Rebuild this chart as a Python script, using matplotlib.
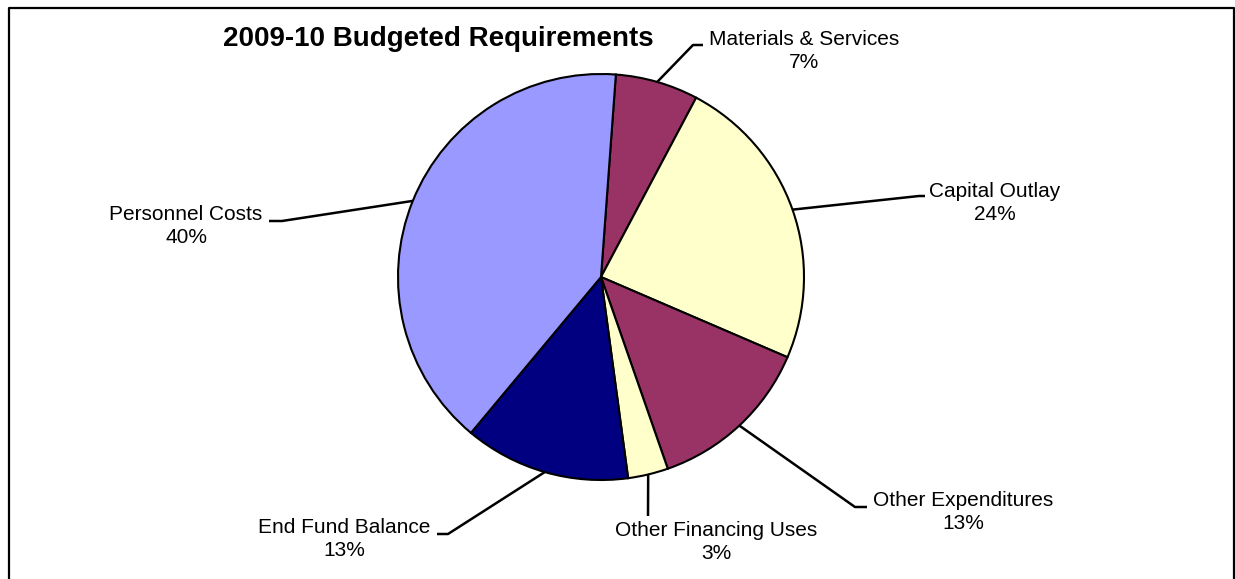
import numpy as np
import matplotlib
matplotlib.use('Agg')
import matplotlib.pyplot as plt

plt.rcParams['font.family'] = ['Liberation Sans', 'DejaVu Sans']

# data, clockwise from the top
categories = ['Materials & Services', 'Capital Outlay', 'Other Expenditures',
              'Other Financing Uses', 'End Fund Balance', 'Personnel Costs']
shares = [6.6, 23.7, 13.2, 3.2, 13.2, 40.1]
colors = ['#993366', '#FFFFCC', '#993366', '#FFFFCC', '#000080', '#9999FF']

W, H = 1235, 579


def py(y):
    # pixel row (from top) -> data y
    return H - y


# label layout in pixels: (elbow x, elbow y, end x, text x, text y)
layout = [
    (693, 45, 703, 804, 51),
    (919, 196, 925, 995, 203),
    (855, 507, 867, 963, 512),
    (648, 516, 648, 716, 542),
    (448, 534, 437, 344, 539),
    (282, 221, 269, 186, 226),
]

fig = plt.figure(figsize=(W / 100, H / 100), dpi=100)
ax = fig.add_axes([0, 0, 1, 1])

cx, cy, r = 601, py(277), 203
wedges, _ = ax.pie(shares, colors=colors, startangle=85.8, counterclock=False,
                   radius=r, center=(cx, cy),
                   wedgeprops=dict(edgecolor='black', linewidth=1.5))

ax.set_xlim(0, W)
ax.set_ylim(0, H)
ax.set_aspect('equal')
ax.axis('off')

for w, name, v, (ex, ey, tx, lx, ly) in zip(wedges, categories, shares, layout):
    mid = np.deg2rad((w.theta1 + w.theta2) / 2)
    sx, sy = cx + r * np.cos(mid), cy + r * np.sin(mid)
    ax.plot([sx, ex, tx], [sy, py(ey), py(ey)], color='black', lw=1.8,
            solid_capstyle='butt')
    ax.text(lx, py(ly), f'{name}\n{round(v)}%', ha='center', va='center',
            fontsize=15, linespacing=1.25, color='black')

ax.text(438, py(39), '2009-10 Budgeted Requirements', ha='center', va='center',
        fontsize=20, fontweight='bold')

# outer frame (open at the bottom, as in the source)
ax.plot([9, 9, 1233.5, 1233.5], [-5, py(7.5), py(7.5), -5], color='black',
        lw=1.6, clip_on=False)

fig.savefig('out.png', dpi=100)
